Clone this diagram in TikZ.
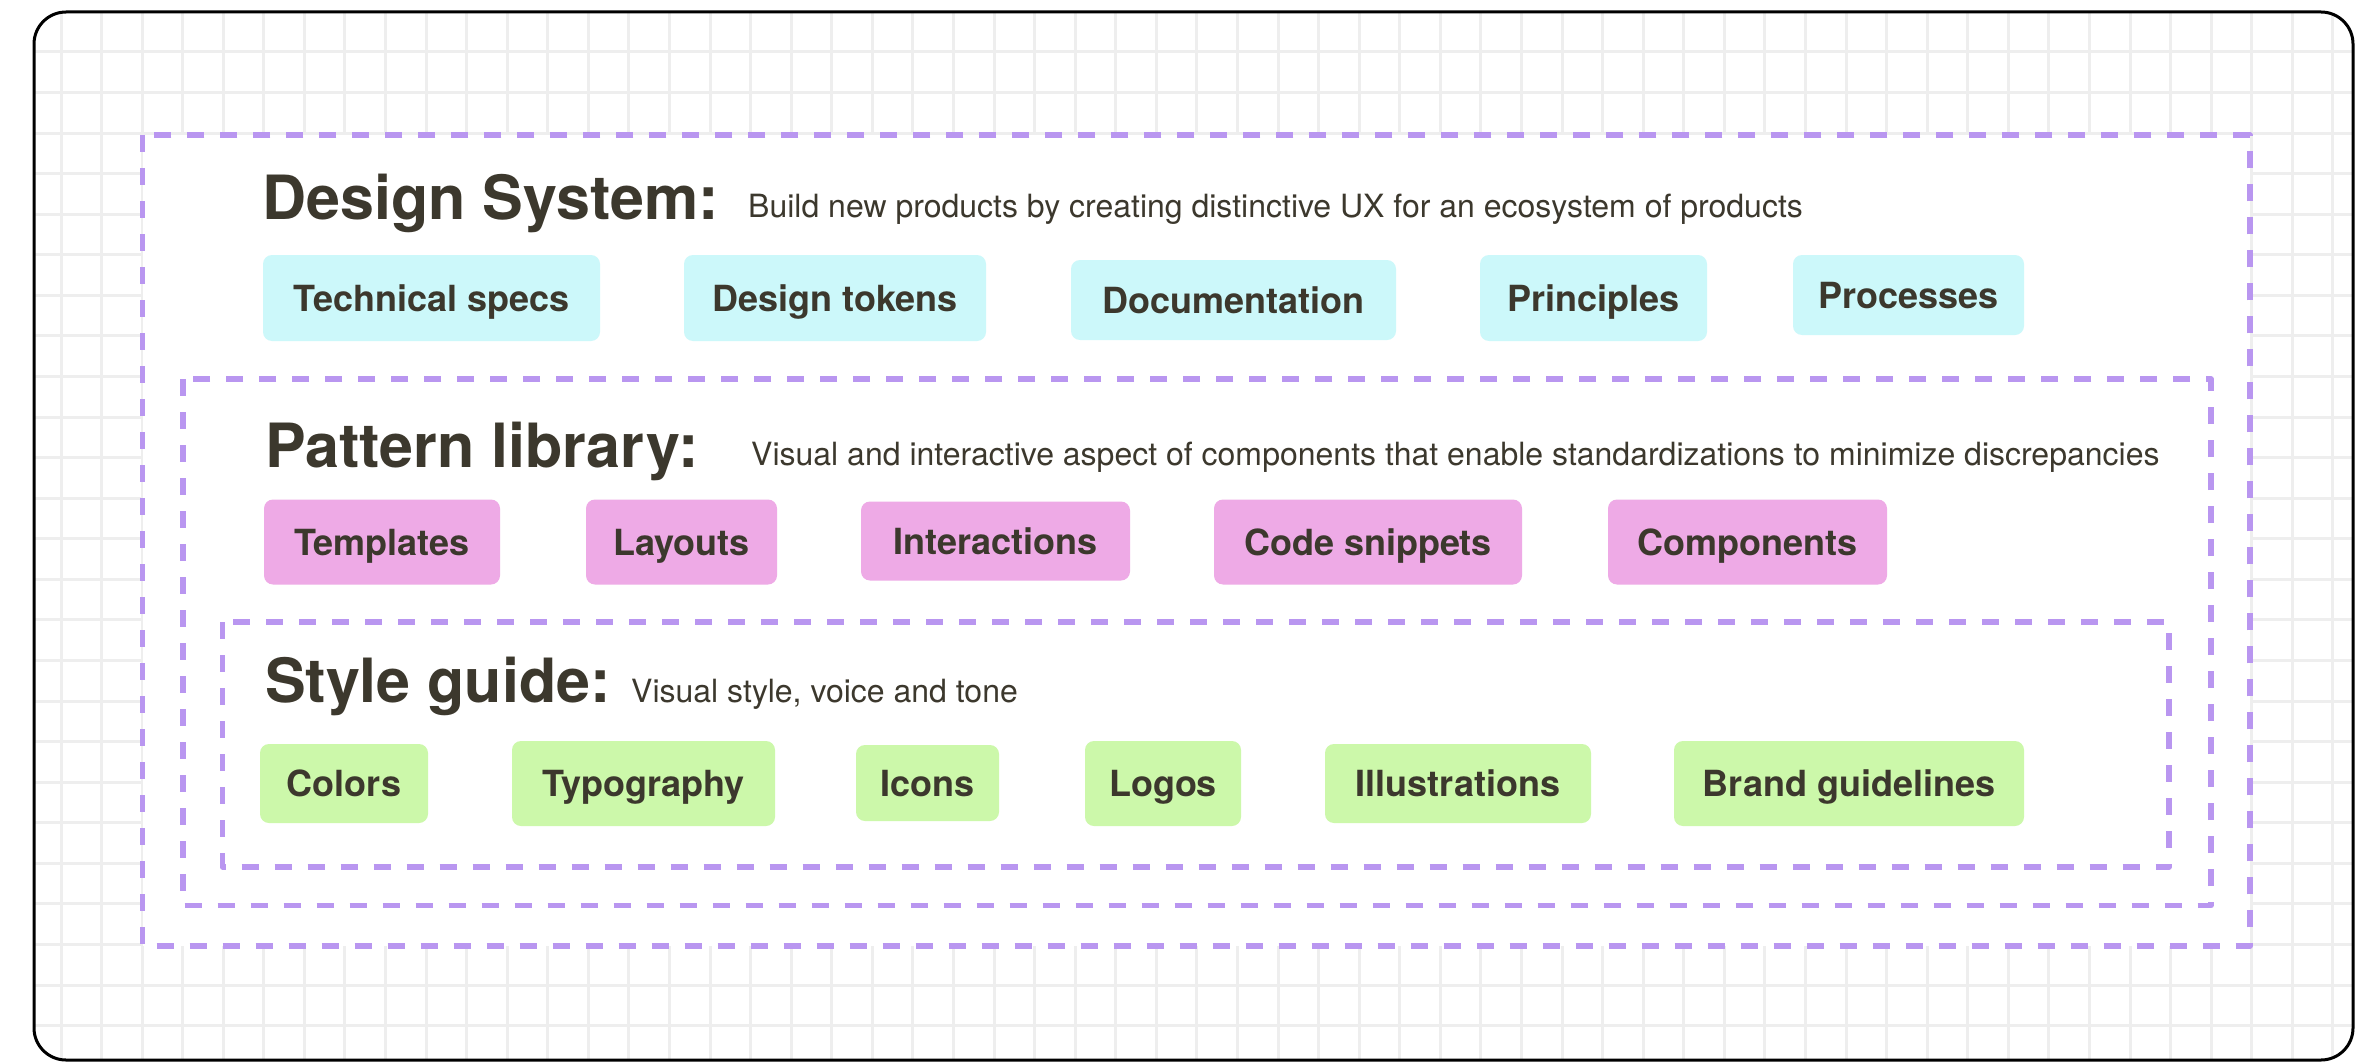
\documentclass[tikz,border=0pt]{standalone}
\usepackage{fontspec}
\setmainfont{TeX Gyre Heros}
\usepackage{tikz}
\usetikzlibrary{calc}
\definecolor{inkdark}{HTML}{3C382D}
\definecolor{gridgray}{HTML}{EEEEEE}
\definecolor{framelilac}{HTML}{B996F0}
\definecolor{tagcyan}{HTML}{CCF8FA}
\definecolor{tagpink}{HTML}{EEAAE6}
\definecolor{taggreen}{HTML}{CCF8AA}
\tikzset{
	tag/.style={rounded corners=9pt,inner sep=0pt,text=inkdark,
		font=\fontsize{36}{40}\selectfont\bfseries,text height=26pt,text depth=0pt},
	headtxt/.style={anchor=base west,inner sep=0pt,text=inkdark,font=\fontsize{61}{67}\selectfont\bfseries},
	subtxt/.style={anchor=base west,inner sep=0pt,text=inkdark,font=\fontsize{32}{36}\selectfont},
	layerframe/.style={draw=framelilac,line width=5.5pt,dash pattern=on 17pt off 16pt},
	gridline/.style={draw=gridgray,line width=3pt}
}

\begin{document}
\begin{tikzpicture}[line join=round,x=1pt,y=-1pt]
		\useasboundingbox (0,0) rectangle (2356,1062);
		% grid paper inside the card
		\begin{scope}
		\clip[rounded corners=32pt] (34,12) rectangle (2353,1060);
		\foreach \k in {-1,...,57}
		\draw[gridline] ({61+40.57*\k},0) -- ({61+40.57*\k},1062);
		\foreach \k in {-1,...,26}
		\draw[gridline] (0,{52+40.57*\k}) -- (2356,{52+40.57*\k});
		\end{scope}
		\draw[black,line width=3pt,rounded corners=32pt] (34,12) rectangle (2353,1060);
		% nested layers
		\draw[layerframe,fill=white] (142.7,135) rectangle (2250,946);
		\draw[layerframe] (183,379) rectangle (2211,905.5);
		\draw[layerframe] (222.5,622) rectangle (2169,867);
		% design system
		\node[headtxt] (dshead) at (262,219) {Design System:};
		\node[subtxt] (dssub) at (748,217) {Build new products by creating distinctive UX for an ecosystem of products};
		\foreach \nm/\cx/\cy/\w/\h/\txt in {techspecs/431.5/298/337/86/Technical specs,
			tokens/835/298/302/86/Design tokens,docs/1233.5/300/325/80/Documentation,
			principles/1593.5/298/227/86/Principles,processes/1908.5/295/231/80/Processes}
		\node[tag,fill=tagcyan,minimum width=\w pt,minimum height=\h pt] (\nm) at (\cx,\cy) {\txt};
		% pattern library
		\node[headtxt] (plhead) at (265,467) {Pattern library:};
		\node[subtxt] (plsub) at (751,465) {Visual and interactive aspect of components that enable standardizations to minimize discrepancies};
		\foreach \nm/\cx/\cy/\w/\h/\txt in {templates/382/542/236/85/Templates,
			layouts/681.5/542/191/85/Layouts,interactions/995.5/541/269/79/Interactions,
			snippets/1368/542/308/85/Code snippets,components/1747.5/542/279/85/Components}
		\node[tag,fill=tagpink,minimum width=\w pt,minimum height=\h pt] (\nm) at (\cx,\cy) {\txt};
		% style guide
		\node[headtxt] (sghead) at (265,702) {Style guide:};
		\node[subtxt] (sgsub) at (631,702) {Visual style, voice and tone};
		\foreach \nm/\cx/\cy/\w/\h/\txt in {colors/344/783.5/168/79/Colors,
			typography/643.5/783.5/263/85/Typography,icons/927.5/783/143/76/Icons,
			logos/1163/783.5/156/85/Logos,illustrations/1458/783.5/266/79/Illustrations,
			brand/1849/783.5/350/85/Brand guidelines}
		\node[tag,fill=taggreen,minimum width=\w pt,minimum height=\h pt] (\nm) at (\cx,\cy) {\txt};
\end{tikzpicture}
\end{document}
